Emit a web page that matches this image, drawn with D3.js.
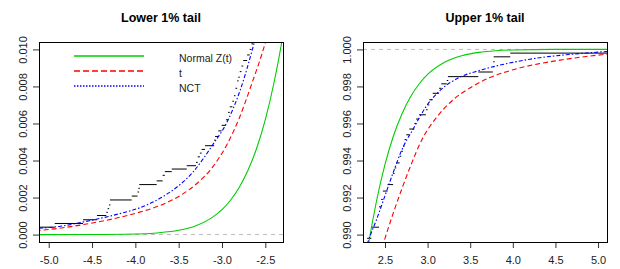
<!DOCTYPE html>
<html>
<head>
<meta charset="utf-8">
<script src="https://cdn.jsdelivr.net/npm/d3@7"></script>
<style>
  body { margin: 0; background: #fff; }
  svg { display: block; font-family: "Liberation Sans", Arial, sans-serif; }
</style>
</head>
<body>
<div id="chart"></div>
<script>
// values, [x, cdf]

// lower tail
const normalLower = [[-5.15, 0], [-4.5, 0.000003], [-4.0, 0.00003], [-3.75, 0.00009], [-3.5, 0.00023],
  [-3.3, 0.00048], [-3.1, 0.00097], [-3.0, 0.00135], [-2.9, 0.00187], [-2.8, 0.00256], [-2.7, 0.00347],
  [-2.6, 0.00466], [-2.5, 0.00621], [-2.4, 0.0082], [-2.3, 0.0107], [-2.28, 0.0113]];
const tLower = [[-5.15, 0.00021], [-4.88, 0.00034], [-4.53, 0.0006], [-4.19, 0.00092], [-3.96, 0.0012],
  [-3.71, 0.00158], [-3.485, 0.0021], [-3.3, 0.00272], [-3.1, 0.0037], [-2.95, 0.0048], [-2.8, 0.0063],
  [-2.66, 0.0081], [-2.51, 0.0102], [-2.45, 0.0112]];
const nctLower = [[-5.15, 0.00033], [-4.88, 0.00044], [-4.53, 0.00075], [-4.19, 0.00112], [-3.96, 0.00143],
  [-3.7, 0.002], [-3.485, 0.0027], [-3.33, 0.0034], [-3.216, 0.0041], [-3.1, 0.0049], [-2.95, 0.006],
  [-2.79, 0.0078], [-2.62, 0.0105], [-2.58, 0.0112]];
// empirical cdf: [jump x, value after jump]
const ecdfLower = [[-5.2, 0.0004], [-4.93, 0.0006], [-4.604, 0.0008], [-4.443, 0.00103], [-4.335, 0.0012],
  [-4.32, 0.0014], [-4.305, 0.0016], [-4.293, 0.00187], [-4.042, 0.00208], [-3.975, 0.0023], [-3.965, 0.0025],
  [-3.955, 0.0027], [-3.754, 0.0029], [-3.685, 0.0032], [-3.66, 0.0034], [-3.58, 0.00354], [-3.407, 0.00372],
  [-3.3, 0.0039], [-3.28, 0.0042], [-3.255, 0.0044], [-3.235, 0.0046], [-3.196, 0.0048], [-3.09, 0.0051],
  [-3.08, 0.0053], [-3.043, 0.0056], [-3.004, 0.0059], [-2.955, 0.0062], [-2.93, 0.0066], [-2.91, 0.0069],
  [-2.88, 0.0072], [-2.862, 0.0075], [-2.845, 0.0079], [-2.825, 0.0083], [-2.812, 0.0085], [-2.795, 0.0088],
  [-2.775, 0.0091], [-2.755, 0.0094], [-2.71, 0.0097], [-2.68, 0.01], [-2.66, 0.0103], [-2.64, 0.0107],
  [-2.6, 0.0107]];

// upper tail
const normalUpper = [[2.2, 0.9861], [2.3, 0.98928], [2.4, 0.9918], [2.5, 0.99379], [2.6, 0.99534],
  [2.7, 0.99653], [2.8, 0.99744], [2.9, 0.99813], [3.0, 0.99865], [3.2, 0.99931], [3.4, 0.99966],
  [3.6, 0.99984], [3.8, 0.99993], [4.0, 0.99997], [4.5, 1.0], [5.15, 1.0]];
const tUpper = [[2.44, 0.9889], [2.5, 0.9898], [2.6, 0.9912], [2.7, 0.9925], [2.8, 0.9937], [2.93, 0.9951],
  [3.1, 0.9963], [3.3, 0.99728], [3.5, 0.99793], [3.7, 0.99842], [3.9, 0.99876], [4.1, 0.99902],
  [4.3, 0.99922], [4.5, 0.99938], [4.7, 0.99952], [4.9, 0.99964], [5.15, 0.99976]];
const nctUpper = [[2.28, 0.9893], [2.3, 0.9896], [2.4, 0.9908], [2.5, 0.9921], [2.6, 0.9934], [2.7, 0.9946],
  [2.83, 0.9957], [2.98, 0.9969], [3.15, 0.9978], [3.37, 0.99848], [3.6, 0.99885], [3.8, 0.9991],
  [4.0, 0.9993], [4.2, 0.99947], [4.4, 0.9996], [4.6, 0.9997], [4.8, 0.99978], [5.15, 0.9999]];
const ecdfUpper = [[2.29, 0.9898], [2.34, 0.9904], [2.43, 0.9915], [2.455, 0.9919], [2.475, 0.99235],
  [2.53, 0.9927], [2.595, 0.9933], [2.613, 0.9936], [2.633, 0.99387], [2.672, 0.99423], [2.691, 0.9945],
  [2.711, 0.99477], [2.73, 0.99513], [2.75, 0.99539], [2.785, 0.9957], [2.845, 0.996], [2.865, 0.99624],
  [2.9, 0.99647], [2.98, 0.99674], [3.0, 0.997], [3.02, 0.99728], [3.06, 0.99763], [3.135, 0.9979],
  [3.16, 0.99814], [3.225, 0.99832], [3.238, 0.99853], [3.595, 0.99878], [3.765, 0.99906], [3.77, 0.99933],
  [3.775, 0.9996], [3.97, 0.9998], [5.2, 0.9998]];

// tick labels
const lowerXTicks = [-5.0, -4.5, -4.0, -3.5, -3.0, -2.5];
const lowerYTicks = [0.000, 0.002, 0.004, 0.006, 0.008, 0.010];
const upperXTicks = [2.5, 3.0, 3.5, 4.0, 4.5, 5.0];
const upperYTicks = [0.990, 0.992, 0.994, 0.996, 0.998, 1.000];
const legendLabels = ["Normal Z(t)", "t", "NCT"];

const width = 620;
const height = 269;

const colGreen = "#00cd00";
const colRed = "#ff0000";
const colBlue = "#0000ff";
const dashT = "5,3";
const dashNct = "1.5,2,4,2";

const svg = d3.select("#chart")
  .append("svg")
  .attr("width", width)
  .attr("height", height);

svg.append("rect").attr("width", width).attr("height", height).attr("fill", "#fff");

function drawPanel(p) {
  const x = d3.scaleLinear().domain(p.xDomain).range([p.left, p.right]);
  const y = d3.scaleLinear().domain(p.yDomain).range([p.bottom, p.top]);

  const clipId = "clip-" + p.id;
  svg.append("clipPath").attr("id", clipId)
    .append("rect")
      .attr("x", p.left).attr("y", p.top)
      .attr("width", p.right - p.left).attr("height", p.bottom - p.top);

  const g = svg.append("g").attr("clip-path", `url(#${clipId})`);

  // reference line at 0 or 1
  g.append("line")
    .attr("x1", p.left).attr("x2", p.right)
    .attr("y1", y(p.refY)).attr("y2", y(p.refY))
    .attr("stroke", "#bbbbbb").attr("stroke-dasharray", "4,4");

  // empirical cdf as horizontal steps
  const segs = p.ecdf.slice(0, -1).map((d, i) => [d[0], p.ecdf[i + 1][0], d[1]]);
  g.selectAll(".step")
    .data(segs)
    .enter()
    .append("line")
      .attr("class", "step")
      .attr("x1", d => x(d[0]))
      .attr("x2", d => Math.max(x(d[1]), x(d[0]) + 1.5))
      .attr("y1", d => y(d[2]))
      .attr("y2", d => y(d[2]))
      .attr("stroke", "#000").attr("stroke-width", 1);

  const line = d3.line()
    .x(d => x(d[0]))
    .y(d => y(d[1]))
    .curve(d3.curveMonotoneX);

  const series = [
    {data: p.normal, color: colGreen, dash: null},
    {data: p.t, color: colRed, dash: dashT},
    {data: p.nct, color: colBlue, dash: dashNct}
  ];
  g.selectAll(".curve")
    .data(series)
    .enter()
    .append("path")
      .attr("class", "curve")
      .attr("d", d => line(d.data))
      .attr("fill", "none")
      .attr("stroke", d => d.color)
      .attr("stroke-width", 1.1)
      .attr("stroke-dasharray", d => d.dash);

  // x axis
  const xa = svg.append("g")
    .attr("transform", `translate(0,${p.bottom})`)
    .call(d3.axisBottom(x).tickValues(p.xTicks).tickSize(6).tickPadding(8)
      .tickFormat(d => d.toFixed(1)));
  xa.select(".domain").remove();
  xa.selectAll("line").attr("stroke", "#333");
  xa.selectAll("text").attr("font-size", "11px").attr("fill", "#222")
    .attr("font-family", "Liberation Sans, Arial, sans-serif");

  // y axis, labels turned like R
  const ya = svg.append("g")
    .attr("transform", `translate(${p.left},0)`)
    .call(d3.axisLeft(y).tickValues(p.yTicks).tickSize(6)
      .tickFormat(d => d.toFixed(3)));
  ya.select(".domain").remove();
  ya.selectAll("line").attr("stroke", "#333");
  ya.selectAll("text")
    .attr("transform", "rotate(-90)")
    .attr("x", 0).attr("y", -12).attr("dy", null)
    .attr("text-anchor", "middle")
    .attr("font-size", "11px").attr("fill", "#222")
    .attr("font-family", "Liberation Sans, Arial, sans-serif");

  // box
  svg.append("rect")
    .attr("x", p.left + 0.5).attr("y", p.top + 0.5)
    .attr("width", p.right - p.left).attr("height", p.bottom - p.top)
    .attr("fill", "none").attr("stroke", "#000");

  // title
  svg.append("text")
    .attr("x", (p.left + p.right) / 2).attr("y", 21.5)
    .attr("text-anchor", "middle")
    .attr("font-weight", "bold").attr("font-size", "12.5px")
    .text(p.title);
}

drawPanel({
  id: "lower", title: "Lower 1% tail",
  left: 39, right: 283, top: 42, bottom: 242,
  xDomain: [-5.112, -2.296], yDomain: [-0.0004, 0.0104],
  xTicks: lowerXTicks, yTicks: lowerYTicks, refY: 0,
  normal: normalLower, t: tLower, nct: nctLower, ecdf: ecdfLower
});

drawPanel({
  id: "upper", title: "Upper 1% tail",
  left: 363, right: 607, top: 42, bottom: 242,
  xDomain: [2.242, 5.105], yDomain: [0.9896, 1.0004],
  xTicks: upperXTicks, yTicks: upperYTicks, refY: 1,
  normal: normalUpper, t: tUpper, nct: nctUpper, ecdf: ecdfUpper
});

// legend in the left panel
const legendRows = [
  {label: legendLabels[0], color: colGreen, dash: "none"},
  {label: legendLabels[1], color: colRed, dash: "6,3"},
  {label: legendLabels[2], color: colBlue, dash: "1.5,1.5"}
];
const legend = svg.append("g").attr("class", "legend");
legend.selectAll(".key")
  .data(legendRows)
  .enter()
  .append("path")
    .attr("class", "key")
    .attr("d", (d, i) => `M74,${56 + i * 15}H144`)
    .attr("fill", "none")
    .style("stroke", d => d.color)
    .style("stroke-width", "1.5px")
    .style("stroke-dasharray", d => d.dash);
legend.selectAll(".lab")
  .data(legendRows)
  .enter()
  .append("text")
    .attr("class", "lab")
    .attr("x", 179)
    .attr("y", (d, i) => 61.5 + i * 15)
    .attr("font-size", "10.5px")
    .attr("fill", "#222")
    .text(d => d.label);
</script>
</body>
</html>
